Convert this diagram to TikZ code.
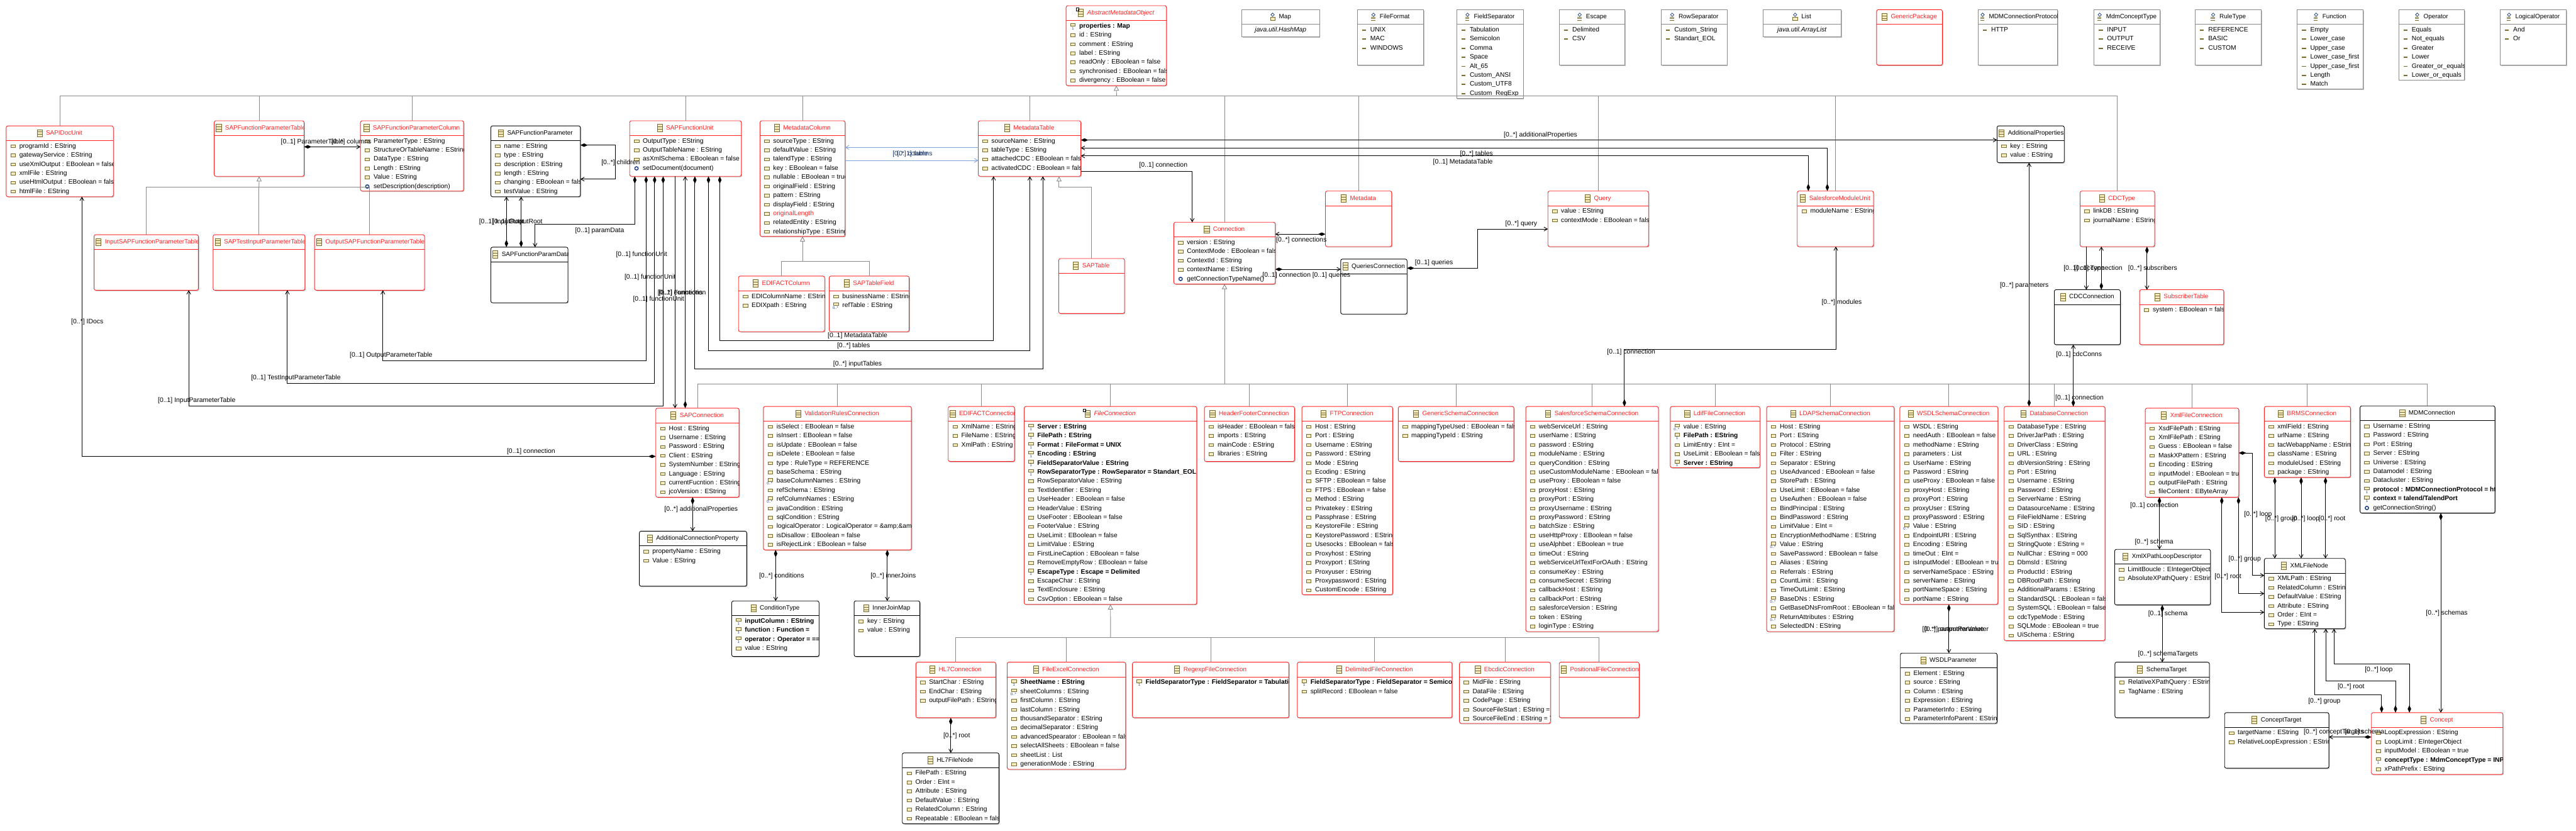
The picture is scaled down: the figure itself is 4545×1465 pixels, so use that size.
\documentclass[tikz,border=0pt]{standalone}
\usepackage{fontspec}
\setmainfont{Liberation Sans}
\usetikzlibrary{calc,arrows.meta,shadows}

\definecolor{umlred}{HTML}{FF2222}
\definecolor{umlgrey}{HTML}{8A8A8A}
\definecolor{iconline}{HTML}{7B6A2E}
\definecolor{iconfill}{HTML}{F2ECC0}
\definecolor{multblue}{HTML}{1C3F8C}
\definecolor{linkblue}{HTML}{7FA6D8}
\definecolor{linktext}{HTML}{1F3864}

\newcommand{\umlfont}{\fontsize{11.4pt}{14pt}\selectfont}
\newcommand{\umltitlefont}{\fontsize{11pt}{14pt}\selectfont}
\newcommand{\rolefont}{\fontsize{11.6pt}{14pt}\selectfont}
\newcommand{\multfont}{\fontsize{6.5pt}{7pt}\selectfont}
\newsavebox{\titlebox}

\tikzset{
  umlbox/.style={rectangle,fill=white,line width=1pt,inner sep=0pt,outer sep=0pt,
    drop shadow={shadow xshift=1.5pt,shadow yshift=-1.5pt,fill=black!35,opacity=.7}},
  redbox/.style={umlbox,draw=umlred,rounded corners=3pt},
  absbox/.style={redbox},
  blackbox/.style={umlbox,draw=black,rounded corners=3pt},
  enumbox/.style={umlbox,draw=umlgrey},
  typebox/.style={enumbox},
  redbox rule/.style={draw=umlred,line width=1pt},
  absbox rule/.style={redbox rule},
  blackbox rule/.style={draw=black,line width=1pt},
  enumbox rule/.style={draw=umlgrey,line width=1pt},
  typebox rule/.style={enumbox rule},
  titletext/.style={anchor=west,inner sep=0pt,font=\umltitlefont,text height=8.5pt,text depth=2.5pt},
  redbox title/.style={text=umlred},
  absbox title/.style={text=umlred,font=\umltitlefont\itshape},
  blackbox title/.style={},
  enumbox title/.style={},
  typebox title/.style={},
  rowtext/.style={anchor=west,inner sep=0pt,font=\umlfont,text height=8.5pt,text depth=2.5pt},
  rowa/.style={},
  rowb/.style={font=\umlfont\bfseries},
  rowm/.style={},
  rowo/.style={},
  rowl/.style={},
  rowr/.style={text=umlred},
  rowi/.style={anchor=center,xshift=\boxw*0.5pt-23pt,font=\umlfont\itshape},
  attricon/.style={draw=iconline,fill=iconfill,line width=.9pt},
  classicon/.style={draw=iconline,fill=iconfill,line width=.9pt},
  literalicon/.style={fill=iconline},
  opicon/.style={draw=multblue,fill=white,line width=1.6pt},
  diamondicon/.style={draw=multblue,fill=white,line width=.8pt},
  multlabel/.style={inner sep=0pt,font=\multfont,text=multblue},
  rolelabel/.style={inner sep=0pt,font=\rolefont},
  bluelabel/.style={rolelabel,text=linktext},
  assoc/.style={line width=1pt,draw=black},
  comp/.style={assoc,{Diamond[length=13pt,width=6pt]}-{Straight Barb[length=6pt,width=7pt]}},
  tocomp/.style={assoc,{Straight Barb[length=6pt,width=7pt]}-{Diamond[length=13pt,width=6pt]}},
  ref/.style={assoc,-{Straight Barb[length=6pt,width=7pt]}},
  bluelink/.style={line width=1pt,draw=linkblue,-{Straight Barb[length=6pt,width=7pt]}},
  genline/.style={line width=1pt,draw=umlgrey},
  gentip/.style={genline,-{Triangle[open,length=9pt,width=9pt,fill=white]}}
}

\newcommand{\rowicona}[1]{\draw[attricon] ($(#1.west)+(-15,-2.5)$) rectangle +(8.3,5);}
\newcommand{\rowiconr}[1]{\rowicona{#1}}
\newcommand{\rowiconb}[1]{\draw[attricon] ($(#1.west)+(-15,-5)$) rectangle +(8.3,5);
  \node[multlabel] (#1-m) at ($(#1.west)+(-11,4)$) {1};}
\newcommand{\rowiconm}[1]{\draw[attricon] ($(#1.west)+(-15,-5)$) rectangle +(8.3,5);
  \node[multlabel] (#1-m) at ($(#1.west)+(-12,4)$) {0..*};}
\newcommand{\rowicono}[1]{\draw[opicon] ($(#1.west)+(-11,0)$) circle (3pt);}
\newcommand{\rowiconl}[1]{\fill[literalicon] ($(#1.west)+(-14.5,-1)$) rectangle +(7,2);}
\newcommand{\rowiconi}[1]{}

\newcommand{\titleiconredbox}[1]{\draw[classicon] ($(#1.west)+(-15.5,-6.5)$) rectangle +(9,13);
  \draw[classicon] ($(#1.west)+(-15.5,-2.2)$) -- +(9,0) ($(#1.west)+(-15.5,2.2)$) -- +(9,0);}
\newcommand{\titleiconblackbox}[1]{\titleiconredbox{#1}}
\newcommand{\titleiconabsbox}[1]{\titleiconredbox{#1}
  \draw[line width=.6pt] ($(#1.west)+(-19,-9)$) rectangle +(4,5);}
\newcommand{\titleiconenumbox}[1]{\draw[diamondicon] ($(#1.west)+(-11,-7)$) -- +(3,3) -- +(0,6) -- +(-3,3) -- cycle;
  \draw[draw=iconline,line width=1pt] ($(#1.west)+(-15,0.5)$) -- +(7,0) ($(#1.west)+(-15,3)$) -- +(7,0) ($(#1.west)+(-15,5.5)$) -- +(7,0);}
\newcommand{\titleicontypebox}[1]{\draw[diamondicon] ($(#1.west)+(-11,-7)$) -- +(3,3) -- +(0,6) -- +(-3,3) -- cycle;
  \draw[classicon] ($(#1.west)+(-15,0)$) rectangle +(8,6);}

\newcommand{\classbox}[8]{%
  \pgfmathsetmacro\boxw{#5-#3}\pgfmathsetmacro\boxh{#6-#4}%
  \node[#1,anchor=north west,minimum width=\boxw pt,minimum height=\boxh pt] (#2) at (#3,#4) {};
  \draw[#1 rule] (#3,#4+26) -- (#5,#4+26);
  \begin{scope}
    \clip (#2.north west) rectangle (#2.south east);
    \pgfinterruptpicture\global\setbox\titlebox=\hbox{\normalfont\umltitlefont #7}\endpgfinterruptpicture
    \edef\titlewd{\the\wd\titlebox}%
    \pgfmathsetmacro\titlex{max(#3+19,(#3+#5)/2-\titlewd/2+7.5)}%
    \node[titletext,#1 title] (#2-title) at (\titlex,#4+13) {#7};
    \csname titleicon#1\endcsname{#2-title}
    \if\relax\detokenize{#8}\relax\else
    \foreach \rowkind/\rowname [count=\rowno] in {#8}{
      \node[rowtext,row\rowkind] (#2-\rowno) at (#3+23,#4+20+16*\rowno) {\rowname};
      \csname rowicon\rowkind\endcsname{#2-\rowno}
    }
    \fi
  \end{scope}
}

\begin{document}
\begin{tikzpicture}[x=1pt,y=-1pt]
\useasboundingbox (0,0) rectangle (4545,1465);

\classbox{redbox}{SAPIDocUnit}{11}{222}{200}{347}{SAPIDocUnit}{a/programId : EString,a/gatewayService : EString,a/useXmlOutput : EBoolean = false,a/xmlFile : EString,a/useHtmlOutput : EBoolean = false,a/htmlFile : EString}
\classbox{redbox}{SAPFunctionParameterTable}{378}{213}{536.5}{311}{SAPFunctionParameterTable}{}
\classbox{redbox}{SAPFunctionParameterColumn}{636}{213}{818}{337}{SAPFunctionParameterColumn}{a/ParameterType : EString,a/StructureOrTableName : EString,a/DataType : EString,a/Length : EString,a/Value : EString,o/setDescription(description)}
\classbox{blackbox}{SAPFunctionParameter}{866}{222}{1024}{347}{SAPFunctionParameter}{a/name : EString,a/type : EString,a/description : EString,a/length : EString,a/changing : EBoolean = false,a/testValue : EString}
\classbox{redbox}{InputSAPFunctionParameterTable}{166}{414}{350}{512}{InputSAPFunctionParameterTable}{}
\classbox{redbox}{SAPTestInputParameterTable}{376}{414}{538}{512}{SAPTestInputParameterTable}{}
\classbox{redbox}{OutputSAPFunctionParameterTable}{555}{414}{749}{512}{OutputSAPFunctionParameterTable}{}
\classbox{blackbox}{SAPFunctionParamData}{866}{436}{1002}{534}{SAPFunctionParamData}{}
\classbox{redbox}{SAPFunctionUnit}{1111}{213}{1308}{311}{SAPFunctionUnit}{a/OutputType : EString,a/OutputTableName : EString,a/asXmlSchema : EBoolean = false,o/setDocument(document)}
\classbox{redbox}{MetadataColumn}{1341}{213}{1491}{417}{MetadataColumn}{a/sourceType : EString,a/defaultValue : EString,a/talendType : EString,a/key : EBoolean = false,a/nullable : EBoolean = true,a/originalField : EString,a/pattern : EString,a/displayField : EString,r/originalLength,a/relatedEntity : EString,a/relationshipType : EString}
\classbox{redbox}{MetadataTable}{1726}{213}{1907}{311}{MetadataTable}{a/sourceName : EString,a/tableType : EString,a/attachedCDC : EBoolean = false,a/activatedCDC : EBoolean = false}
\classbox{absbox}{AbstractMetadataObject}{1881}{10}{2058}{151}{AbstractMetadataObject}{b/properties : Map,a/id : EString,a/comment : EString,a/label : EString,a/readOnly : EBoolean = false,a/synchronised : EBoolean = false,a/divergency : EBoolean = false}
\classbox{redbox}{Connection}{2071}{392}{2250}{501}{Connection}{a/version : EString,a/ContextMode : EBoolean = false,a/ContextId : EString,a/contextName : EString,o/getConnectionTypeName()}
\classbox{redbox}{SAPTable}{1868}{456}{1984}{553}{SAPTable}{}
\classbox{redbox}{EDIFACTColumn}{1303}{487}{1455}{585}{EDIFACTColumn}{a/EDIColumnName : EString,a/EDIXpath : EString}
\classbox{redbox}{SAPTableField}{1463}{487}{1604}{585}{SAPTableField}{a/businessName : EString,m/refTable : EString}
\classbox{redbox}{Metadata}{2338.5}{337}{2455.5}{435}{Metadata}{}
\classbox{redbox}{Query}{2731}{337}{2908.5}{435}{Query}{a/value : EString,a/contextMode : EBoolean = false}
\classbox{redbox}{SalesforceModuleUnit}{3171}{337}{3305.5}{435}{SalesforceModuleUnit}{a/moduleName : EString}
\classbox{blackbox}{QueriesConnection}{2365.5}{457}{2482.5}{554}{QueriesConnection}{}

\classbox{typebox}{Map}{2191}{17}{2328}{65}{Map}{i/java.util.HashMap}
\classbox{enumbox}{FileFormat}{2394.5}{17}{2511.5}{115}{FileFormat}{l/UNIX,l/MAC,l/WINDOWS}
\classbox{enumbox}{FieldSeparator}{2570}{17}{2687.5}{174}{FieldSeparator}{l/Tabulation,l/Semicolon,l/Comma,l/Space,l/Alt\_65,l/Custom\_ANSI,l/Custom\_UTF8,l/Custom\_RegExp}
\classbox{enumbox}{Escape}{2751}{17}{2867}{115}{Escape}{l/Delimited,l/CSV}
\classbox{enumbox}{RowSeparator}{2931}{17}{3047}{115}{RowSeparator}{l/Custom\_String,l/Standart\_EOL}
\classbox{typebox}{List}{3110.5}{17}{3248}{65}{List}{i/java.util.ArrayList}
\classbox{redbox}{GenericPackage}{3311}{17}{3427}{115}{GenericPackage}{}
\classbox{enumbox}{MDMConnectionProtocol}{3490}{17}{3630.5}{115}{MDMConnectionProtocol}{l/HTTP}
\classbox{enumbox}{MdmConceptType}{3694.5}{17}{3811}{115}{MdmConceptType}{l/INPUT,l/OUTPUT,l/RECEIVE}
\classbox{enumbox}{RuleType}{3873}{17}{3990}{115}{RuleType}{l/REFERENCE,l/BASIC,l/CUSTOM}
\classbox{enumbox}{Function}{4053}{17}{4169}{157}{Function}{l/Empty,l/Lower\_case,l/Upper\_case,l/Lower\_case\_first,l/Upper\_case\_first,l/Length,l/Match}
\classbox{enumbox}{Operator}{4232}{17}{4348}{141}{Operator}{l/Equals,l/Not\_equals,l/Greater,l/Lower,l/Greater\_or\_equals,l/Lower\_or\_equals}
\classbox{enumbox}{LogicalOperator}{4411}{17}{4528}{115}{LogicalOperator}{l/And,l/Or}

\classbox{blackbox}{AdditionalProperties}{3523.5}{222}{3642}{287}{AdditionalProperties}{a/key : EString,a/value : EString}
\classbox{redbox}{CDCType}{3670}{337}{3801.5}{435}{CDCType}{a/linkDB : EString,a/journalName : EString}
\classbox{blackbox}{CDCConnection}{3624.5}{511}{3741}{608}{CDCConnection}{}
\classbox{redbox}{SubscriberTable}{3775}{511}{3923.5}{608}{SubscriberTable}{a/system : EBoolean = false}

\classbox{redbox}{SAPConnection}{1157}{720}{1304}{877}{SAPConnection}{a/Host : EString,a/Username : EString,a/Password : EString,a/Client : EString,a/SystemNumber : EString,a/Language : EString,a/currentFucntion : EString,a/jcoVersion : EString}
\classbox{redbox}{ValidationRulesConnection}{1347}{717}{1608}{970}{ValidationRulesConnection}{a/isSelect : EBoolean = false,a/isInsert : EBoolean = false,a/isUpdate : EBoolean = false,a/isDelete : EBoolean = false,a/type : RuleType = REFERENCE,a/baseSchema : EString,m/baseColumnNames : EString,a/refSchema : EString,m/refColumnNames : EString,a/javaCondition : EString,a/sqlCondition : EString,a/logicalOperator : LogicalOperator = \&amp;\&amp;,a/isDisallow : EBoolean = false,a/isRejectLink : EBoolean = false}
\classbox{redbox}{EDIFACTConnection}{1673}{717}{1790}{814}{EDIFACTConnection}{a/XmlName : EString,a/FileName : EString,a/XmlPath : EString}
\classbox{absbox}{FileConnection}{1807}{717}{2111.5}{1066}{FileConnection}{b/Server : EString,b/FilePath : EString,b/Format : FileFormat = UNIX,b/Encoding : EString,b/FieldSeparatorValue : EString,b/RowSeparatorType : RowSeparator = Standart\_EOL = ',a/RowSeparatorValue : EString,a/TextIdentifier : EString,a/UseHeader : EBoolean = false,a/HeaderValue : EString,a/UseFooter : EBoolean = false,a/FooterValue : EString,a/UseLimit : EBoolean = false,a/LimitValue : EString,a/FirstLineCaption : EBoolean = false,a/RemoveEmptyRow : EBoolean = false,b/EscapeType : Escape = Delimited,a/EscapeChar : EString,a/TextEnclosure : EString,a/CsvOption : EBoolean = false}
\classbox{redbox}{HeaderFooterConnection}{2125}{717}{2284}{814}{HeaderFooterConnection}{a/isHeader : EBoolean = false,a/imports : EString,a/mainCode : EString,a/libraries : EString}
\classbox{redbox}{FTPConnection}{2297}{717}{2457}{1049}{FTPConnection}{a/Host : EString,a/Port : EString,a/Username : EString,a/Password : EString,a/Mode : EString,a/Ecoding : EString,a/SFTP : EBoolean = false,a/FTPS : EBoolean = false,a/Method : EString,a/Privatekey : EString,a/Passphrase : EString,a/KeystoreFile : EString,a/KeystorePassword : EString,a/Usesocks : EBoolean = false,a/Proxyhost : EString,a/Proxyport : EString,a/Proxyuser : EString,a/Proxypassword : EString,a/CustomEncode : EString}
\classbox{redbox}{GenericSchemaConnection}{2467}{717}{2671}{814}{GenericSchemaConnection}{a/mappingTypeUsed : EBoolean = false,a/mappingTypeId : EString}
\classbox{redbox}{SalesforceSchemaConnection}{2692}{717}{2926}{1114}{SalesforceSchemaConnection}{a/webServiceUrl : EString,a/userName : EString,a/password : EString,a/moduleName : EString,a/queryCondition : EString,a/useCustomModuleName : EBoolean = false,a/useProxy : EBoolean = false,a/proxyHost : EString,a/proxyPort : EString,a/proxyUsername : EString,a/proxyPassword : EString,a/batchSize : EString,a/useHttpProxy : EBoolean = false,a/useAlphbet : EBoolean = true,a/timeOut : EString,a/webServiceUrlTextForOAuth : EString,a/consumeKey : EString,a/consumeSecret : EString,a/callbackHost : EString,a/callbackPort : EString,a/salesforceVersion : EString,a/token : EString,a/loginType : EString}
\classbox{redbox}{LdifFileConnection}{2947}{717}{3105}{825}{LdifFileConnection}{m/value : EString,b/FilePath : EString,a/LimitEntry : EInt =,a/UseLimit : EBoolean = false,b/Server : EString}
\classbox{redbox}{LDAPSchemaConnection}{3117}{717}{3342}{1114}{LDAPSchemaConnection}{a/Host : EString,a/Port : EString,a/Protocol : EString,a/Filter : EString,a/Separator : EString,a/UseAdvanced : EBoolean = false,a/StorePath : EString,a/UseLimit : EBoolean = false,a/UseAuthen : EBoolean = false,a/BindPrincipal : EString,a/BindPassword : EString,a/LimitValue : EInt =,a/EncryptionMethodName : EString,m/Value : EString,a/SavePassword : EBoolean = false,a/Aliases : EString,a/Referrals : EString,a/CountLimit : EString,a/TimeOutLimit : EString,m/BaseDNs : EString,a/GetBaseDNsFromRoot : EBoolean = false,m/ReturnAttributes : EString,a/SelectedDN : EString}
\classbox{redbox}{WSDLSchemaConnection}{3352}{717}{3525}{1066}{WSDLSchemaConnection}{a/WSDL : EString,a/needAuth : EBoolean = false,a/methodName : EString,a/parameters : List,a/UserName : EString,a/Password : EString,a/useProxy : EBoolean = false,a/proxyHost : EString,a/proxyPort : EString,a/proxyUser : EString,a/proxyPassword : EString,m/Value : EString,a/EndpointURI : EString,a/Encoding : EString,a/timeOut : EInt =,a/isInputModel : EBoolean = true,a/serverNameSpace : EString,a/serverName : EString,a/portNameSpace : EString,a/portName : EString}
\classbox{redbox}{DatabaseConnection}{3536}{717}{3714}{1130}{DatabaseConnection}{a/DatabaseType : EString,a/DriverJarPath : EString,a/DriverClass : EString,a/URL : EString,a/dbVersionString : EString,a/Port : EString,a/Username : EString,a/Password : EString,a/ServerName : EString,a/DatasourceName : EString,a/FileFieldName : EString,a/SID : EString,a/SqlSynthax : EString,a/StringQuote : EString =,a/NullChar : EString = 000,a/DbmsId : EString,a/ProductId : EString,a/DBRootPath : EString,a/AdditionalParams : EString,a/StandardSQL : EBoolean = false,a/SystemSQL : EBoolean = false,a/cdcTypeMode : EString,a/SQLMode : EBoolean = true,a/UiSchema : EString}
\classbox{redbox}{XmlFileConnection}{3785}{720}{3950}{877}{XmlFileConnection}{a/XsdFilePath : EString,a/XmlFilePath : EString,a/Guess : EBoolean = false,a/MaskXPattern : EString,a/Encoding : EString,a/inputModel : EBoolean = true,a/outputFilePath : EString,a/fileContent : EByteArray}
\classbox{redbox}{BRMSConnection}{3995}{717}{4147}{842}{BRMSConnection}{a/xmlField : EString,a/urlName : EString,a/tacWebappName : EString,a/className : EString,a/moduleUsed : EString,a/package : EString}
\classbox{blackbox}{MDMConnection}{4164}{716}{4402}{905}{MDMConnection}{a/Username : EString,a/Password : EString,a/Port : EString,a/Server : EString,a/Universe : EString,a/Datamodel : EString,a/Datacluster : EString,b/protocol : MDMConnectionProtocol = http,b/{context = talend/TalendPort},o/getConnectionString()}

\classbox{blackbox}{AdditionalConnectionProperty}{1128}{937}{1317.5}{1034}{AdditionalConnectionProperty}{a/propertyName : EString,a/Value : EString}
\classbox{blackbox}{ConditionType}{1291}{1060}{1445}{1158}{ConditionType}{b/inputColumn : EString,b/function : Function =,b/operator : Operator = ==,a/value : EString}
\classbox{blackbox}{InnerJoinMap}{1507}{1060}{1623}{1158}{InnerJoinMap}{a/key : EString,a/value : EString}
\classbox{redbox}{HL7Connection}{1616}{1168}{1757}{1266}{HL7Connection}{a/StartChar : EString,a/EndChar : EString,a/outputFilePath : EString}
\classbox{blackbox}{HL7FileNode}{1592}{1328}{1762.5}{1453}{HL7FileNode}{a/FilePath : EString,a/Order : EInt =,a/Attribute : EString,a/DefaultValue : EString,a/RelatedColumn : EString,a/Repeatable : EBoolean = false}
\classbox{redbox}{FileExcelConnection}{1777}{1168}{1986}{1357}{FileExcelConnection}{b/SheetName : EString,m/sheetColumns : EString,a/firstColumn : EString,a/lastColumn : EString,a/thousandSeparator : EString,a/decimalSeparator : EString,a/advancedSpearator : EBoolean = false,a/selectAllSheets : EBoolean = false,a/sheetList : List,a/generationMode : EString}
\classbox{redbox}{RegexpFileConnection}{1998}{1168}{2274}{1266}{RegexpFileConnection}{b/FieldSeparatorType : FieldSeparator = Tabulation}
\classbox{redbox}{DelimitedFileConnection}{2289}{1168}{2562}{1266}{DelimitedFileConnection}{b/FieldSeparatorType : FieldSeparator = Semicolon,a/splitRecord : EBoolean = false}
\classbox{redbox}{EbcdicConnection}{2575}{1168}{2735.5}{1276}{EbcdicConnection}{a/MidFile : EString,a/DataFile : EString,a/CodePage : EString,a/SourceFileStart : EString = 0,a/SourceFileEnd : EString = 72}
\classbox{redbox}{PositionalFileConnection}{2751}{1168}{2892}{1266}{PositionalFileConnection}{}
\classbox{blackbox}{WSDLParameter}{3353}{1152}{3523.5}{1276}{WSDLParameter}{a/Element : EString,a/source : EString,a/Column : EString,a/Expression : EString,a/ParameterInfo : EString,a/ParameterInfoParent : EString}
\classbox{blackbox}{XmlXPathLoopDescriptor}{3731}{969}{3900}{1067}{XmlXPathLoopDescriptor}{a/LimitBoucle : EIntegerObject,a/AbsoluteXPathQuery : EString}
\classbox{blackbox}{XMLFileNode}{3995}{985}{4138}{1109}{XMLFileNode}{a/XMLPath : EString,a/RelatedColumn : EString,a/DefaultValue : EString,a/Attribute : EString,a/Order : EInt =,a/Type : EString}
\classbox{blackbox}{SchemaTarget}{3731.5}{1168}{3898}{1266}{SchemaTarget}{a/RelativeXPathQuery : EString,a/TagName : EString}
\classbox{blackbox}{ConceptTarget}{3925}{1257}{4109}{1355}{ConceptTarget}{a/targetName : EString,a/RelativeLoopExpression : EString}
\classbox{redbox}{Concept}{4184}{1257}{4416}{1366}{Concept}{a/LoopExpression : EString,a/LoopLimit : EIntegerObject,a/inputModel : EBoolean = true,b/conceptType : MdmConceptType = INPUT,a/xPathPrefix : EString}

\coordinate (metaBus) at (1970,169);
\foreach \n in {SAPIDocUnit,SAPFunctionParameterTable,SAPFunctionParameterColumn,SAPFunctionUnit,MetadataColumn,MetadataTable,Connection,Metadata,Query,SalesforceModuleUnit,CDCType}
  \draw[genline] (\n.north) |- (metaBus);
\draw[gentip] (metaBus) -- (AbstractMetadataObject.south);

\coordinate (paramBus) at (457,330);
\foreach \n in {InputSAPFunctionParameterTable,SAPTestInputParameterTable,OutputSAPFunctionParameterTable}
  \draw[genline] (\n.north) |- (paramBus);
\draw[gentip] (paramBus) -- (SAPFunctionParameterTable.south);

\coordinate (columnBus) at (1416,461);
\foreach \n in {EDIFACTColumn,SAPTableField}
  \draw[genline] (\n.north) |- (columnBus);
\draw[gentip] (columnBus) -- (MetadataColumn.south);

\draw[gentip] (SAPTable.north) |- (1868.5,330) -- (1868.5,0 |- MetadataTable.south);

\coordinate (connBus) at (2160.5,677);
\foreach \n in {SAPConnection,ValidationRulesConnection,EDIFACTConnection,FileConnection,HeaderFooterConnection,FTPConnection,GenericSchemaConnection,SalesforceSchemaConnection,LdifFileConnection,LDAPSchemaConnection,WSDLSchemaConnection,DatabaseConnection,XmlFileConnection,BRMSConnection,MDMConnection}
  \draw[genline] (\n.north) |- (connBus);
\draw[gentip] (connBus) -- (Connection.south);

\coordinate (fileBus) at (1959.5,1125);
\foreach \n in {HL7Connection,FileExcelConnection,RegexpFileConnection,DelimitedFileConnection,EbcdicConnection,PositionalFileConnection}
  \draw[genline] (\n.north) |- (fileBus);
\draw[gentip] (fileBus) -- (FileConnection.south);

\draw[comp] (0,259 -| SAPFunctionParameterTable.east) -- (0,259 -| SAPFunctionParameterColumn.west);
\draw[comp] (0,256 -| SAPFunctionParameter.east) -- (1085.5,256) -- (1085.5,316) -- (0,316 -| SAPFunctionParameter.east);
\draw[tocomp] (893.5,0 |- SAPFunctionParameter.south) -- (893.5,0 |- SAPFunctionParamData.north);
\draw[tocomp] (919.5,0 |- SAPFunctionParameter.south) -- (919.5,0 |- SAPFunctionParamData.north);
\draw[comp] (1120,0 |- SAPFunctionUnit.south) |- (944,396) -- (944,0 |- SAPFunctionParamData.north);
\draw[comp] (1140,0 |- SAPFunctionUnit.south) |- (675.5,636) -- (675.5,0 |- OutputSAPFunctionParameterTable.south);
\draw[comp] (1155,0 |- SAPFunctionUnit.south) |- (507,676) -- (507,0 |- SAPTestInputParameterTable.south);
\draw[comp] (1170,0 |- SAPFunctionUnit.south) |- (333,716) -- (333,0 |- InputSAPFunctionParameterTable.south);
\draw[ref] (1191,0 |- SAPFunctionUnit.south) -- (1191,0 |- SAPConnection.north);
\draw[tocomp] (1209,0 |- SAPFunctionUnit.south) -- (1209,0 |- SAPConnection.north);
\draw[comp] (1226,0 |- SAPFunctionUnit.south) |- (1840,651) -- (1840,0 |- MetadataTable.south);
\draw[comp] (1250,0 |- SAPFunctionUnit.south) |- (1817,619) -- (1817,0 |- MetadataTable.south);
\draw[comp] (1270,0 |- SAPFunctionUnit.south) |- (1753,601) -- (1753,0 |- MetadataTable.south);
\draw[comp] (0,805 -| SAPConnection.west) -- (144.5,805) -- (144.5,0 |- SAPIDocUnit.south);

\draw[bluelink] (0,260 -| MetadataTable.west) -- (0,260 -| MetadataColumn.east);
\draw[bluelink] (0,283 -| MetadataColumn.east) -- (0,283 -| MetadataTable.west);
\draw[comp] (0,247 -| MetadataTable.east) -- (0,247 -| AdditionalProperties.west);
\draw[tocomp] (0,261 -| MetadataTable.east) -- (3224,261) -- (3224,0 |- SalesforceModuleUnit.north);
\draw[tocomp] (0,275 -| MetadataTable.east) -- (3190.5,275) -- (3190.5,0 |- SalesforceModuleUnit.north);
\draw[ref] (0,302 -| MetadataTable.east) -- (2103.5,302) -- (2103.5,0 |- Connection.north);

\draw[comp] (0,413 -| Metadata.west) -- (0,413 -| Connection.east);
\draw[comp] (0,475 -| Connection.east) -- (0,475 -| QueriesConnection.west);
\draw[comp] (0,473 -| QueriesConnection.east) -- (2607.5,473) -- (2607.5,404) -- (0,404 -| Query.west);
\draw[comp] (2866,0 |- SalesforceSchemaConnection.north) |- (3239,616) -- (3239,0 |- SalesforceModuleUnit.south);

\draw[comp] (3580,0 |- DatabaseConnection.north) -- (3580,0 |- AdditionalProperties.south);
\draw[ref] (3681,0 |- CDCType.south) -- (3681,0 |- CDCConnection.north);
\draw[tocomp] (3707.5,0 |- CDCType.south) -- (3707.5,0 |- CDCConnection.north);
\draw[comp] (3788,0 |- CDCType.south) -- (3788,0 |- SubscriberTable.north);
\draw[tocomp] (3658,0 |- CDCConnection.south) -- (3658,0 |- DatabaseConnection.north);

\draw[comp] (3810,0 |- XmlFileConnection.south) -- (3810,0 |- XmlXPathLoopDescriptor.north);
\draw[comp] (0,799 -| XmlFileConnection.east) -- (3974,799) -- (3974,1015) -- (0,1015 -| XMLFileNode.west);
\draw[comp] (3949.5,0 |- XmlFileConnection.south) |- (0,1047 -| XMLFileNode.west);
\draw[comp] (3920,0 |- XmlFileConnection.south) |- (0,1080 -| XMLFileNode.west);
\draw[comp] (4013.5,0 |- BRMSConnection.south) -- (4013.5,0 |- XMLFileNode.north);
\draw[comp] (4060,0 |- BRMSConnection.south) -- (4060,0 |- XMLFileNode.north);
\draw[comp] (4103,0 |- BRMSConnection.south) -- (4103,0 |- XMLFileNode.north);
\draw[comp] (3815,0 |- XmlXPathLoopDescriptor.south) -- (3815,0 |- SchemaTarget.north);
\draw[comp] (4306.5,0 |- MDMConnection.south) -- (4306.5,0 |- Concept.north);
\draw[comp] (4251,0 |- Concept.north) |- (4118,1171) -- (4118,0 |- XMLFileNode.south);
\draw[comp] (4226.5,0 |- Concept.north) |- (4103.5,1201) -- (4103.5,0 |- XMLFileNode.south);
\draw[comp] (4202,0 |- Concept.north) |- (4084,1226) -- (4084,0 |- XMLFileNode.south);
\draw[comp] (0,1300 -| Concept.west) -- (0,1300 -| ConceptTarget.east);

\draw[comp] (3438.5,0 |- WSDLSchemaConnection.south) -- (3438.5,0 |- WSDLParameter.north);
\draw[comp] (1368.5,0 |- ValidationRulesConnection.south) -- (1368.5,0 |- ConditionType.north);
\draw[comp] (1565.5,0 |- ValidationRulesConnection.south) -- (1565.5,0 |- InnerJoinMap.north);
\draw[comp] (1222,0 |- SAPConnection.south) -- (1222,0 |- AdditionalConnectionProperty.north);
\draw[comp] (1677.5,0 |- HL7Connection.south) -- (1677.5,0 |- HL7FileNode.north);

\node[rolelabel] (L1) at (551,250) {[0..1] ParameterTable};
\node[rolelabel] (L2) at (620,250) {[0..*] columns};
\node[rolelabel] (L3) at (1095,287) {[0..*] children};
\node[rolelabel] (L4) at (885,392) {[0..1] InputRoot};
\node[rolelabel] (L5) at (913,392) {[0..1] OutputRoot};
\node[rolelabel] (L6) at (1058,407) {[0..1] paramData};
\node[rolelabel] (L7) at (1132,449) {[0..1] functionUnit};
\node[rolelabel] (L8) at (1147,489) {[0..1] functionUnit};
\node[rolelabel] (L9) at (1162,528) {[0..1] functionUnit};
\node[rolelabel] (L10) at (1201,517) {[0..*] Functions};
\node[rolelabel] (L11) at (1203,517) {[0..1] connection};
\node[rolelabel] (L12) at (690,627) {[0..1] OutputParameterTable};
\node[rolelabel] (L13) at (522,667) {[0..1] TestInputParameterTable};
\node[rolelabel] (L14) at (347,707) {[0..1] InputParameterTable};
\node[rolelabel] (L15) at (937,796) {[0..1] connection};
\node[rolelabel] (L16) at (154,568) {[0..*] IDocs};
\node[rolelabel] (L17) at (1513,592) {[0..1] MetadataTable};
\node[rolelabel] (L18) at (1506,610) {[0..*] tables};
\node[rolelabel] (L19) at (1513,642) {[0..*] inputTables};
\node[bluelabel] (L20) at (1610,272) {[0..*] columns};
\node[bluelabel] (L21) at (1610,272) {[0..1] table};
\node[rolelabel] (L22) at (2718,238) {[0..*] additionalProperties};
\node[rolelabel] (L23) at (2605,272) {[0..*] tables};
\node[rolelabel] (L24) at (2581,286) {[0..1] MetadataTable};
\node[rolelabel] (L25) at (2052.5,292) {[0..1] connection};
\node[rolelabel] (L26) at (2296,424) {[0..*] connections};
\node[rolelabel] (L27) at (2270,486) {[0..1] connection};
\node[rolelabel] (L28) at (2349,486) {[0..1] queries};
\node[rolelabel] (L29) at (2530,464) {[0..1] queries};
\node[rolelabel] (L30) at (2684,395) {[0..*] query};
\node[rolelabel] (L31) at (2878,621) {[0..1] connection};
\node[rolelabel] (L32) at (3249.5,534) {[0..*] modules};
\node[rolelabel] (L33) at (3571.5,503) {[0..*] parameters};
\node[rolelabel] (L34) at (3677,474) {[0..1] cdcType};
\node[rolelabel] (L35) at (3702,474) {[0..1] connection};
\node[rolelabel] (L36) at (3798,474) {[0..*] subscribers};
\node[rolelabel] (L37) at (3668,626) {[0..1] cdcConns};
\node[rolelabel] (L38) at (3669,702) {[0..1] connection};
\node[rolelabel] (L39) at (3801,892) {[0..1] connection};
\node[rolelabel] (L40) at (3800.5,956) {[0..*] schema};
\node[rolelabel] (L41) at (3984,907) {[0..*] loop};
\node[rolelabel] (L42) at (3960.5,986) {[0..*] group};
\node[rolelabel] (L43) at (3931,1017) {[0..*] root};
\node[rolelabel] (L44) at (4025,915) {[0..*] group};
\node[rolelabel] (L45) at (4068,915) {[0..*] loop};
\node[rolelabel] (L46) at (4114.5,915) {[0..*] root};
\node[rolelabel] (L47) at (3825,1083) {[0..1] schema};
\node[rolelabel] (L48) at (3825,1154) {[0..*] schemaTargets};
\node[rolelabel] (L49) at (4317,1082) {[0..*] schemas};
\node[rolelabel] (L50) at (4197,1182) {[0..*] loop};
\node[rolelabel] (L51) at (4148,1212) {[0..*] root};
\node[rolelabel] (L52) at (4101,1237) {[0..*] group};
\node[rolelabel] (L53) at (4117.5,1291) {[0..*] conceptTargets};
\node[rolelabel] (L54) at (4172,1291) {[0..1] schema};
\node[rolelabel] (L55) at (3446,1111) {[0..*] parameterValue};
\node[rolelabel] (L56) at (3452,1111) {[0..*] outputParameter};
\node[rolelabel] (L57) at (1379,1016) {[0..*] conditions};
\node[rolelabel] (L58) at (1576,1016) {[0..*] innerJoins};
\node[rolelabel] (L59) at (1237,899) {[0..*] additionalProperties};
\node[rolelabel] (L60) at (1688,1298) {[0..*] root};
\end{tikzpicture}
\end{document}
